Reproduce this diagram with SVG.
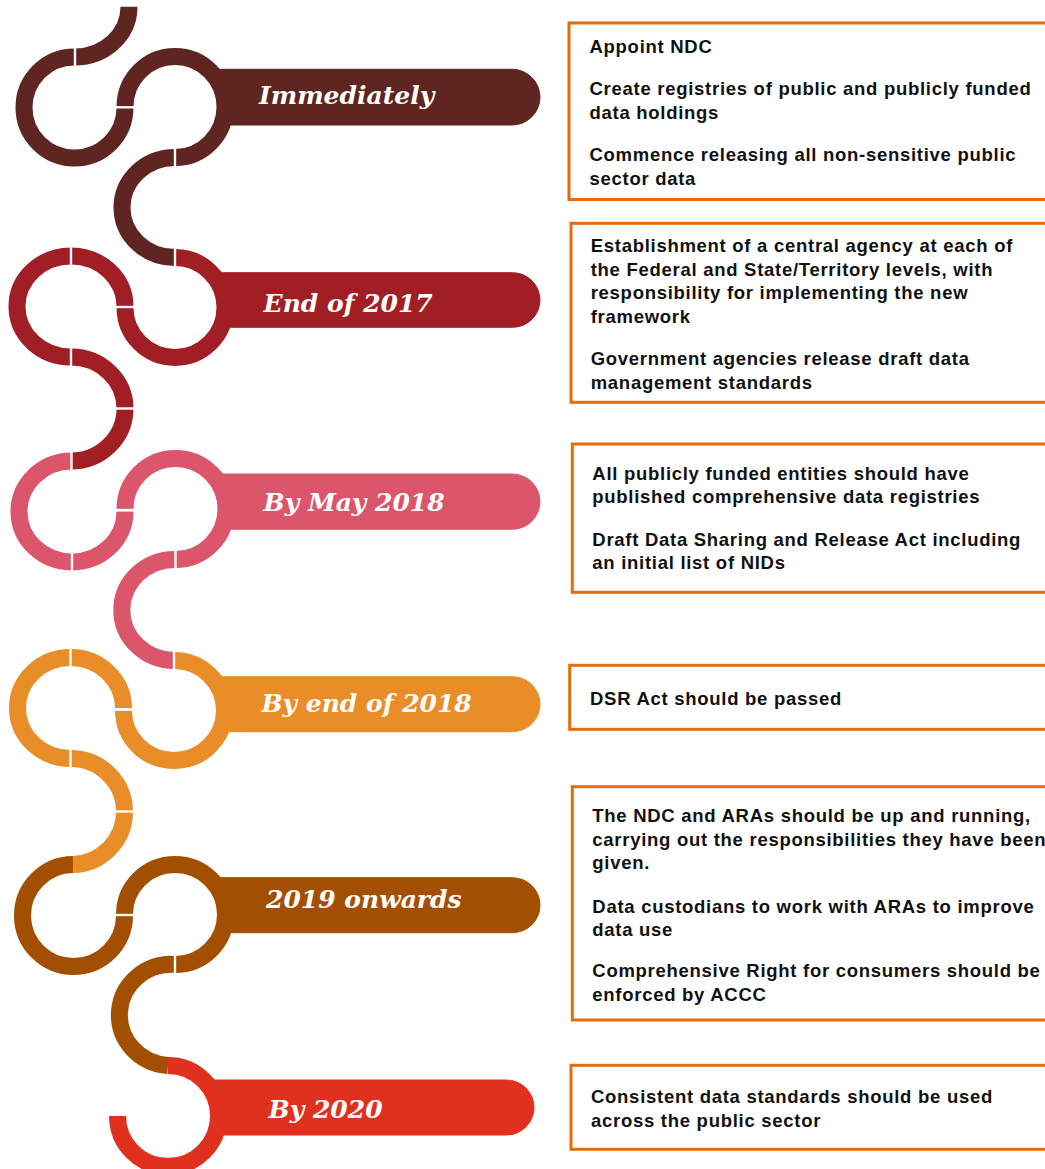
<svg xmlns="http://www.w3.org/2000/svg" width="1045" height="1169" viewBox="0 0 1045 1169">
  <style>
    .seg { fill: none; stroke-width: 17; stroke-linecap: butt; }
    .sep { stroke: #ffffff; stroke-width: 2.4; }
    .lbl { font-family: "DejaVu Serif", "Liberation Serif", serif; font-weight: bold; font-style: italic; font-size: 25px; fill: #ffffff; }
    .box { fill: #ffffff; stroke: #E46C0A; stroke-width: 3; }
    .txt { font-family: "Liberation Sans", Arial, sans-serif; font-weight: bold; font-size: 18.5px; letter-spacing: 0.72px; fill: #111111; }
    .c1 { stroke: #5E2521; fill: #5E2521; }
    .c2 { stroke: #A11F24; fill: #A11F24; }
    .c3 { stroke: #DC566B; fill: #DC566B; }
    .c4 { stroke: #E98D28; fill: #E98D28; }
    .c5 { stroke: #A34F02; fill: #A34F02; }
    .c6 { stroke: #E0311F; fill: #E0311F; }
  </style>
  <rect width="1045" height="1169" fill="#ffffff"/>

  <!-- Milestone: Immediately -->
  <g id="m-immediately">
    <path class="c1" stroke="none" d="M 217.8 69.3 H 512.15 A 27.85 27.85 0 0 1 512.15 125 H 229.2 A 56.8 56.8 0 0 0 217.8 69.3 Z"/>
    <g class="seg c1">
      <path fill="none" d="M 129 6.7 A 54 50.3 0 0 1 75 57"/>
      <path fill="none" d="M 74.5 57 A 50.5 50.5 0 1 0 125 107.5"/>
      <path fill="none" d="M 125 107 A 50 50.5 0 1 1 175 157.5"/>
      <path fill="none" d="M 175 157.5 A 53 50 0 0 0 175 257.5"/>
    </g>
    <text class="lbl" x="259" y="104">Immediately</text>
  </g>

  <!-- Milestone: End of 2017 -->
  <g id="m-end-2017">
    <path class="c2" stroke="none" d="M 219.5 272.7 H 512.7 A 27.3 27.3 0 0 1 512.7 327.3 H 227.9 A 56.5 56.5 0 0 0 219.5 272.7 Z"/>
    <g class="seg c2">
      <path fill="none" d="M 175 257.5 A 50 50 0 1 1 125 307.5"/>
      <path fill="none" d="M 125 306.5 A 54 50.5 0 0 0 71 256"/>
      <path fill="none" d="M 71 256 A 54 50.5 0 0 0 71 357"/>
      <path fill="none" d="M 71 357 A 54 51.5 0 0 1 125 408.5"/>
      <path fill="none" d="M 125 408.5 A 54 52.5 0 0 1 71 461"/>
    </g>
    <text class="lbl" x="263.6" y="311.7">End of 2017</text>
  </g>

  <!-- Milestone: By May 2018 -->
  <g id="m-may-2018">
    <path class="c3" stroke="none" d="M 221.2 474 H 512.35 A 27.65 27.65 0 0 1 512.35 529.3 H 228.4 A 57 57 0 0 0 221.2 474 Z"/>
    <g class="seg c3">
      <path fill="none" d="M 72 461 A 53 50.5 0 0 0 72 562"/>
      <path fill="none" d="M 72 562 A 53 50.5 0 0 0 125 511.5"/>
      <path fill="none" d="M 125 509 A 50.5 50.5 0 1 1 175.5 559.5"/>
      <path fill="none" d="M 175.5 559.5 A 53 50.5 0 0 0 174 660.5"/>
    </g>
    <text class="lbl" x="263.6" y="511">By May 2018</text>
  </g>

  <!-- Milestone: By end of 2018 -->
  <g id="m-end-2018">
    <path class="c4" stroke="none" d="M 219.7 676.7 H 512.5 A 27.5 27.5 0 0 1 512.5 731.7 H 227 A 57 57 0 0 0 219.7 676.7 Z"/>
    <g class="seg c4">
      <path fill="none" d="M 174 660.5 A 50.5 50 0 1 1 123.5 710.5"/>
      <path fill="none" d="M 123.5 708 A 53 50.5 0 0 0 70.5 657.5"/>
      <path fill="none" d="M 70.5 657.5 A 53 50.5 0 0 0 70.5 758.5"/>
      <path fill="none" d="M 70.5 758.5 A 54 53 0 0 1 124.5 811.5"/>
      <path fill="none" d="M 124.5 811.5 A 53 53 0 0 1 73 864.5"/>
    </g>
    <text class="lbl" x="261.4" y="711.7">By end of 2018</text>
  </g>

  <!-- Milestone: 2019 onwards -->
  <g id="m-2019">
    <path class="c5" stroke="none" d="M 218.4 877.7 H 512.5 A 27.5 27.5 0 0 1 512.5 932.7 H 228.7 A 56.8 56.8 0 0 0 218.4 877.7 Z"/>
    <g class="seg c5">
      <path fill="none" d="M 73 864.5 A 51 51 0 1 0 124.5 915.5"/>
      <path fill="none" d="M 124.5 914.5 A 50.5 50 0 1 1 175 964.5"/>
      <path fill="none" d="M 175 964.5 A 52 50.5 0 0 0 168 1065.5"/>
    </g>
    <text class="lbl" x="266" y="908.3">2019 onwards</text>
  </g>

  <!-- Milestone: By 2020 -->
  <g id="m-2020">
    <path class="c6" stroke="none" d="M 212.6 1080 H 506.5 A 27.5 27.5 0 0 1 506.5 1135 H 221.6 A 57 57 0 0 0 212.6 1080 Z"/>
    <g class="seg c6">
      <path fill="none" d="M 168 1065.5 A 50.5 50.5 0 1 1 117.5 1116"/>
    </g>
    <text class="lbl" x="268.6" y="1118.3">By 2020</text>
  </g>

  <!-- Joints: thin white cuts between timeline segments -->
  <g id="connectors" class="sep">
    <line x1="75" y1="47" x2="75" y2="67"/>
    <line x1="115" y1="107.3" x2="135" y2="107.3"/>
    <line x1="175" y1="147.5" x2="175" y2="167.5"/>
    <line x1="175" y1="247.5" x2="175" y2="267.5"/>
    <line x1="115" y1="307" x2="135" y2="307"/>
    <line x1="71" y1="246" x2="71" y2="266"/>
    <line x1="71" y1="347" x2="71" y2="367"/>
    <line x1="115" y1="408.5" x2="135" y2="408.5"/>
    <line x1="71.5" y1="451" x2="71.5" y2="471"/>
    <line x1="72" y1="552" x2="72" y2="572"/>
    <line x1="115" y1="510" x2="135" y2="510"/>
    <line x1="175.5" y1="549.5" x2="175.5" y2="569.5"/>
    <line x1="174" y1="650.5" x2="174" y2="670.5"/>
    <line x1="113.5" y1="709.5" x2="133.5" y2="709.5"/>
    <line x1="70.5" y1="647.5" x2="70.5" y2="667.5"/>
    <line x1="70.5" y1="748.5" x2="70.5" y2="768.5"/>
    <line x1="114.5" y1="811.5" x2="134.5" y2="811.5"/>
    <line x1="114.5" y1="915" x2="134.5" y2="915"/>
    <line x1="175" y1="954.5" x2="175" y2="974.5"/>
  </g>

  <!-- Action boxes -->
  <g id="box-immediately">
    <rect class="box" x="569" y="23" width="490" height="176.5"/>
    <text class="txt">
      <tspan x="589.5" y="53.3">Appoint NDC</tspan>
      <tspan x="589.5" y="95">Create registries of public and publicly funded</tspan>
      <tspan x="589.5" y="119.3">data holdings</tspan>
      <tspan x="589.5" y="160.7">Commence releasing all non-sensitive public</tspan>
      <tspan x="589.5" y="185">sector data</tspan>
    </text>
  </g>

  <g id="box-end-2017">
    <rect class="box" x="571" y="223.3" width="490" height="179"/>
    <text class="txt">
      <tspan x="590.7" y="251.7">Establishment of a central agency at each of</tspan>
      <tspan x="590.7" y="275.7">the Federal and State/Territory levels, with</tspan>
      <tspan x="590.7" y="299.3">responsibility for implementing the new</tspan>
      <tspan x="590.7" y="323.3">framework</tspan>
      <tspan x="590.7" y="365">Government agencies release draft data</tspan>
      <tspan x="590.7" y="389">management standards</tspan>
    </text>
  </g>

  <g id="box-may-2018">
    <rect class="box" x="572.3" y="444" width="490" height="148.3"/>
    <text class="txt">
      <tspan x="592.3" y="480">All publicly funded entities should have</tspan>
      <tspan x="592.3" y="503.3">published comprehensive data registries</tspan>
      <tspan x="592.3" y="546">Draft Data Sharing and Release Act including</tspan>
      <tspan x="592.3" y="569.3">an initial list of NIDs</tspan>
    </text>
  </g>

  <g id="box-end-2018">
    <rect class="box" x="569.7" y="665.3" width="490" height="64"/>
    <text class="txt" x="590" y="705">DSR Act should be passed</text>
  </g>

  <g id="box-2019">
    <rect class="box" x="572.3" y="786.7" width="490" height="233.3"/>
    <text class="txt">
      <tspan x="592.3" y="821.7">The NDC and ARAs should be up and running,</tspan>
      <tspan x="592.3" y="845.7">carrying out the responsibilities they have been</tspan>
      <tspan x="592.3" y="869.3">given.</tspan>
      <tspan x="592.3" y="912.7">Data custodians to work with ARAs to improve</tspan>
      <tspan x="592.3" y="935.7">data use</tspan>
      <tspan x="592.3" y="977.3">Comprehensive Right for consumers should be</tspan>
      <tspan x="592.3" y="1001">enforced by ACCC</tspan>
    </text>
  </g>

  <g id="box-2020">
    <rect class="box" x="571" y="1065.3" width="490" height="84"/>
    <text class="txt">
      <tspan x="591" y="1103.3">Consistent data standards should be used</tspan>
      <tspan x="591" y="1126.7">across the public sector</tspan>
    </text>
  </g>
</svg>
